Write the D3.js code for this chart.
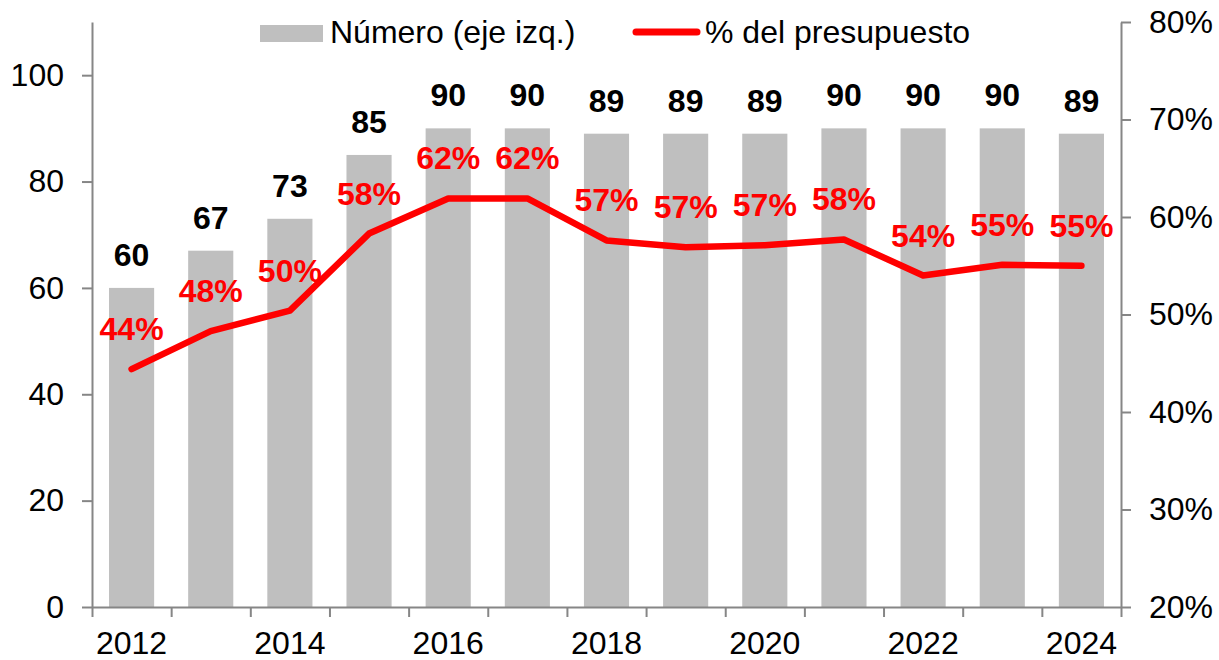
<!DOCTYPE html>
<html>
<head>
<meta charset="utf-8">
<script src="https://cdn.jsdelivr.net/npm/d3@7"></script>
<style>
  body { margin: 0; background: #fff; }
  text { font-family: "Liberation Sans", Arial, sans-serif; }
</style>
</head>
<body>
<div id="chart"></div>
<script>
// chart data
var years = ['2012','2013','2014','2015','2016','2017','2018','2019','2020','2021','2022','2023','2024'];
var numero = [60, 67, 73, 85, 90, 90, 89, 89, 89, 90, 90, 90, 89];
var presupuesto = [44.4, 48.3, 50.4, 58.3, 61.9, 61.9, 57.6, 56.9, 57.1, 57.7, 54.0, 55.1, 55.0];
var presupuestoLabels = ['44%','48%','50%','58%','62%','62%','57%','57%','57%','58%','54%','55%','55%'];
var leftTicks = [0, 20, 40, 60, 80, 100];
var rightTicks = [20, 30, 40, 50, 60, 70, 80];

var width = 1219, height = 660;
var margin = {top: 22, right: 98, bottom: 53, left: 92};
var innerW = width - margin.left - margin.right;
var innerH = height - margin.top - margin.bottom;
var fs = 32;
var axisColor = '#868686';

var svg = d3.select('#chart').append('svg')
  .attr('width', width)
  .attr('height', height);

var g = svg.append('g')
  .attr('transform', 'translate(' + margin.left + ',' + margin.top + ')');

var x = d3.scaleBand().domain(years).range([0, innerW]).paddingInner(0.43).paddingOuter(0.215);
var xEdge = d3.scaleLinear().domain([0, years.length]).range([0, innerW]);
var yLeft = d3.scaleLinear().domain([0, 110]).range([innerH, 0]);
var yRight = d3.scaleLinear().domain([20, 80]).range([innerH, 0]);

// bars
g.selectAll('rect.bar')
  .data(numero)
  .enter().append('rect')
  .attr('class', 'bar')
  .attr('x', function(d, i) { return x(years[i]); })
  .attr('width', x.bandwidth())
  .attr('y', function(d) { return yLeft(d); })
  .attr('height', function(d) { return innerH - yLeft(d); })
  .attr('fill', '#bfbfbf');

// axes
function styleAxis(sel) {
  sel.selectAll('path, line').attr('stroke', axisColor).attr('stroke-width', 2);
  sel.selectAll('text').attr('font-size', fs).attr('fill', '#000')
    .style('font-family', '"Liberation Sans", Arial, sans-serif');
}

g.append('g')
  .call(d3.axisLeft(yLeft).tickValues(leftTicks).tickSize(10).tickSizeOuter(0).tickPadding(18))
  .call(styleAxis);

g.append('g')
  .attr('transform', 'translate(' + innerW + ',0)')
  .call(d3.axisRight(yRight).tickValues(rightTicks).tickSize(10).tickSizeOuter(0).tickPadding(18)
    .tickFormat(function(d) { return d + '%'; }))
  .call(styleAxis);

g.append('g')
  .attr('transform', 'translate(0,' + innerH + ')')
  .call(d3.axisBottom(xEdge).tickValues(d3.range(0, years.length + 1))
    .tickSize(10).tickSizeOuter(0).tickFormat(''))
  .call(styleAxis);

var bottomLabels = g.append('g')
  .attr('transform', 'translate(0,' + innerH + ')')
  .call(d3.axisBottom(x).tickSize(0).tickPadding(24)
    .tickFormat(function(d, i) { return i % 2 === 0 ? d : ''; }))
  .call(styleAxis);
bottomLabels.select('.domain').remove();

// bar labels
g.selectAll('text.barlabel')
  .data(numero)
  .enter().append('text')
  .attr('class', 'barlabel')
  .attr('x', function(d, i) { return x(years[i]) + x.bandwidth() / 2; })
  .attr('y', function(d) { return yLeft(d) - 22; })
  .attr('text-anchor', 'middle')
  .attr('font-size', fs)
  .attr('font-weight', 'bold')
  .attr('fill', '#000')
  .text(function(d) { return d; });

// line
var line = d3.line()
  .x(function(d, i) { return x(years[i]) + x.bandwidth() / 2; })
  .y(function(d) { return yRight(d); });

g.append('path')
  .datum(presupuesto)
  .attr('d', line)
  .attr('fill', 'none')
  .attr('stroke', '#ff0000')
  .attr('stroke-width', 6.5)
  .attr('stroke-linecap', 'round')
  .attr('stroke-linejoin', 'round');

g.selectAll('text.pctlabel')
  .data(presupuesto)
  .enter().append('text')
  .attr('class', 'pctlabel')
  .attr('x', function(d, i) { return x(years[i]) + x.bandwidth() / 2; })
  .attr('y', function(d) { return yRight(d) - 29; })
  .attr('text-anchor', 'middle')
  .attr('font-size', fs)
  .attr('font-weight', 'bold')
  .attr('fill', '#ff0000')
  .text(function(d, i) { return presupuestoLabels[i]; });

// legend
var legend = svg.append('g');
legend.append('rect')
  .attr('x', 260).attr('y', 25).attr('width', 63).attr('height', 17)
  .attr('fill', '#bfbfbf');
legend.append('text')
  .attr('x', 330).attr('y', 43)
  .attr('font-size', fs)
  .text('Número (eje izq.)');
legend.append('line')
  .attr('x1', 636).attr('x2', 697).attr('y1', 32).attr('y2', 32)
  .attr('stroke', '#ff0000').attr('stroke-width', 7).attr('stroke-linecap', 'round');
legend.append('text')
  .attr('x', 705).attr('y', 43)
  .attr('font-size', fs)
  .text('% del presupuesto');
</script>
</body>
</html>
